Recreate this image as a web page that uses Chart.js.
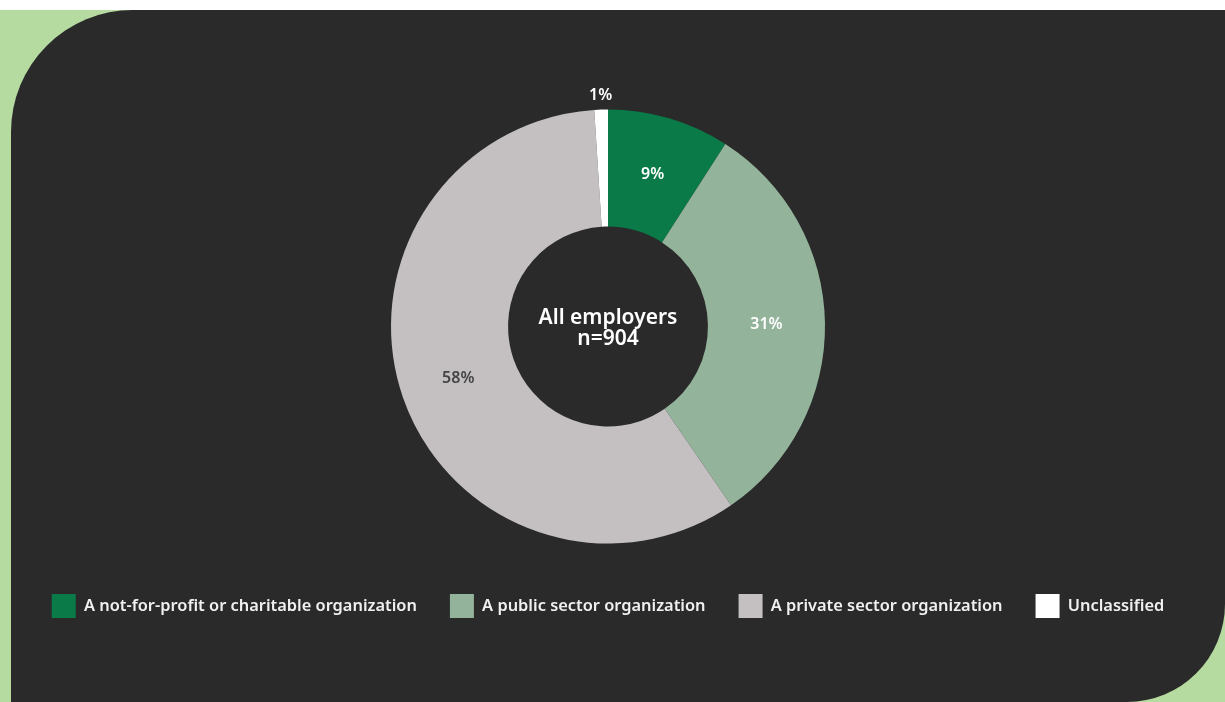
<!DOCTYPE html>
<html lang="en">
<head>
    <meta charset="UTF-8">
    <title>Employers by sector</title>
    <script src="https://cdn.jsdelivr.net/npm/chart.js"></script>
    <style>
        html, body {
            margin: 0;
            padding: 0;
            width: 1225px;
            height: 702px;
            overflow: hidden;
            font-family: "Noto Sans", sans-serif;
        }
        body {
            background: #ffffff;
        }
        .backdrop {
            position: absolute;
            left: 0;
            top: 10px;
            width: 1225px;
            height: 692px;
            background: #b5dba0;
        }
        .panel {
            position: absolute;
            left: 11px;
            top: 10px;
            width: 1214px;
            height: 692px;
            background: #2a2a2a;
            border-radius: 122px 0 98px 0;
        }
        .chart-box {
            position: absolute;
            left: 0;
            top: 0;
            width: 1225px;
            height: 702px;
        }
    </style>
</head>
<body>

<div class="backdrop"></div>
<div class="panel"></div>
<div class="chart-box">
    <canvas id="sectorChart"></canvas>
</div>

<script>
    const categories = [
        'A not-for-profit or charitable organization',
        'A public sector organization',
        'A private sector organization',
        'Unclassified'
    ];
    const shares = [9, 31, 58, 1];
    const sliceColors = ['#0a7a48', '#93b39b', '#c4c0c1', '#ffffff'];
    const labelColors = ['#ffffff', '#ffffff', '#444444', '#ffffff'];
    const centerLines = ['All employers', 'n=904'];

    // percentage labels: inside the ring, or just outside it for tiny slices
    const sliceLabels = {
        id: 'sliceLabels',
        afterDatasetsDraw(chart) {
            const ctx = chart.ctx;
            const arcs = chart.getDatasetMeta(0).data;
            ctx.save();
            ctx.font = '600 16px "Noto Sans"';
            ctx.textAlign = 'center';
            ctx.textBaseline = 'middle';
            arcs.forEach((arc, i) => {
                const text = shares[i] + '%';
                let pos;
                if (shares[i] < 3) {
                    const p = arc.getProps(['x', 'y', 'startAngle', 'endAngle', 'outerRadius'], true);
                    const mid = (p.startAngle + p.endAngle) / 2;
                    const r = p.outerRadius + 14;
                    pos = { x: p.x + Math.cos(mid) * r, y: p.y + Math.sin(mid) * r };
                } else {
                    pos = arc.getCenterPoint(true);
                }
                ctx.fillStyle = labelColors[i];
                ctx.fillText(text, pos.x, pos.y);
            });
            ctx.restore();
        }
    };

    const centerText = {
        id: 'centerText',
        afterDraw(chart) {
            const arc = chart.getDatasetMeta(0).data[0];
            const ctx = chart.ctx;
            ctx.save();
            ctx.font = '600 21px "Noto Sans"';
            ctx.fillStyle = '#ffffff';
            ctx.textAlign = 'center';
            ctx.textBaseline = 'alphabetic';
            ctx.fillText(centerLines[0], arc.x, arc.y - 3);
            ctx.fillText(centerLines[1], arc.x, arc.y + 18);
            ctx.restore();
        }
    };

    new Chart(document.getElementById('sectorChart'), {
        type: 'doughnut',
        data: {
            labels: categories,
            datasets: [{
                data: shares,
                backgroundColor: sliceColors,
                borderWidth: 0,
                hoverOffset: 0
            }]
        },
        options: {
            responsive: true,
            maintainAspectRatio: false,
            animation: false,
            radius: 217,
            cutout: 108,
            layout: {
                padding: { top: 92, bottom: 74, left: 0, right: 9 }
            },
            plugins: {
                tooltip: { enabled: false },
                legend: {
                    position: 'bottom',
                    labels: {
                        boxWidth: 24,
                        boxHeight: 24,
                        padding: 33,
                        color: '#f0f0f0',
                        font: { family: 'Noto Sans', size: 16.4, weight: '600' }
                    }
                }
            }
        },
        plugins: [sliceLabels, centerText]
    });
</script>

</body>
</html>
